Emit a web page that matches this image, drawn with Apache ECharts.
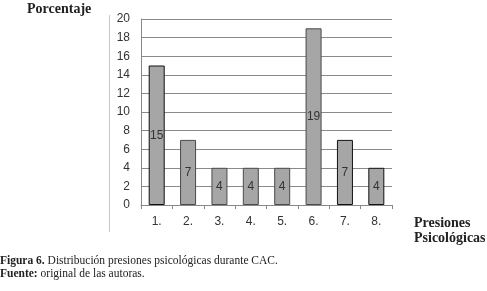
<!DOCTYPE html>
<html>
<head>
<meta charset="utf-8">
<script src="https://cdn.jsdelivr.net/npm/echarts@6/dist/echarts.min.js"></script>
<style>
  html, body { margin: 0; padding: 0; background: #fff; }
  #chart { width: 487px; height: 291px; }
</style>
</head>
<body>
<div id="chart"></div>
<script>
  const categories = ["1.", "2.", "3.", "4.", "5.", "6.", "7.", "8."];
  const values = [15, 7, 4, 4, 4, 19, 7, 4];
  const yTicks = [0, 2, 4, 6, 8, 10, 12, 14, 16, 18, 20];

  const serif = "Liberation Serif";
  const sans = "Liberation Sans";
  // bars drawn with a black outline in the original; the others have a dark grey one
  const darkBorder = [0, 6, 7];

  const barData = values.map((v, i) => ({
    value: v,
    itemStyle: { borderColor: darkBorder.includes(i) ? "#111" : "#4a4a4a" }
  }));

  const chart = echarts.init(document.getElementById("chart"));
  chart.setOption({
    animation: false,
    grid: { left: 141, right: 95, top: 19, bottom: 86 },
    graphic: [
      { type: "line", shape: { x1: 109.5, y1: 15, x2: 109.5, y2: 232 }, style: { stroke: "#c8c8c8", lineWidth: 1 } },
      { type: "text", left: 27, top: 2, style: { text: "Porcentaje", font: "bold 14px " + serif, fill: "#222" } },
      { type: "text", left: 414, top: 216, style: { text: "Presiones", font: "bold 14px " + serif, fill: "#222" } },
      { type: "text", left: 414, top: 231, style: { text: "Psicológicas", font: "bold 14px " + serif, fill: "#222" } },
      { type: "text", left: 0, top: 255, style: { rich: { b: { font: "bold 11.5px " + serif, fill: "#222" }, n: { font: "11.5px " + serif, fill: "#222" } }, text: "{b|Figura 6.}{n| Distribución presiones psicológicas durante CAC.}" } },
      { type: "text", left: 0, top: 268, style: { rich: { b: { font: "bold 11.5px " + serif, fill: "#222" }, n: { font: "11.5px " + serif, fill: "#222" } }, text: "{b|Fuente:}{n| original de las autoras.}" } }
    ],
    xAxis: {
      type: "category",
      data: categories,
      axisLine: { lineStyle: { color: "#888", width: 1 } },
      axisTick: { show: true, length: 4, lineStyle: { color: "#888" } },
      axisLabel: { color: "#333", fontFamily: sans, fontSize: 12, margin: 11 }
    },
    yAxis: {
      type: "value",
      min: yTicks[0],
      max: yTicks[yTicks.length - 1],
      interval: 2,
      axisLine: { show: true, lineStyle: { color: "#888", width: 1 } },
      axisTick: { show: false },
      axisLabel: { color: "#333", fontFamily: sans, fontSize: 12, margin: 11 },
      splitLine: { lineStyle: { color: "#8a8a8a", width: 1 } }
    },
    series: [{
      type: "bar",
      data: barData,
      barWidth: 16,
      itemStyle: { color: "#a6a6a6", borderWidth: 1 },
      label: { show: true, position: "inside", color: "#333", fontFamily: sans, fontSize: 12 }
    }]
  });
</script>
</body>
</html>
